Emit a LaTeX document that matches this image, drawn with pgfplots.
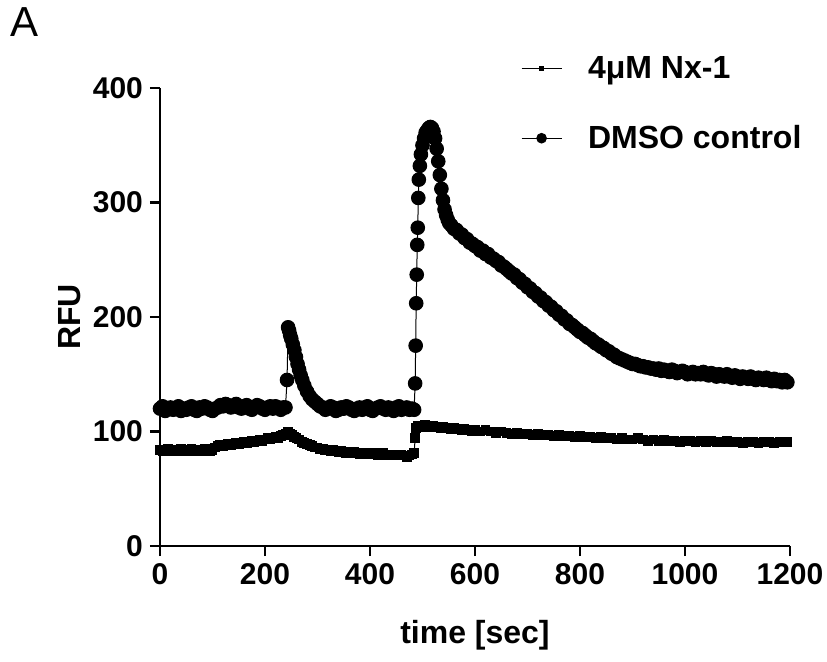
\documentclass[border=0pt]{standalone}
\usepackage{fontspec}
\setmainfont{Liberation Sans}
\usepackage{pgfplots}
\pgfplotsset{compat=1.18}

% Nx-1 trace (time [s], RFU)
\pgfplotstableread{
t y
0 84
5 83
10 84
15 85
20 83
25 84
30 83
35 84
40 85
45 84
50 83
55 84
60 85
65 83
70 84
75 84
80 83
85 85
90 84
95 83
100 84
105 86
110 87
115 88
120 87
125 88
130 89
135 88
140 89
145 90
150 89
155 90
160 91
165 90
170 91
175 92
180 91
185 92
190 93
195 92
200 93
205 94
210 93
215 94
220 95
225 94
230 96
235 97
240 98
244 100
248 98
252 97
256 95
260 94
265 93
270 91
275 90
280 89
285 88
290 87
295 86
300 86
305 85
310 85
315 84
320 84
325 83
330 84
335 83
340 82
345 83
350 82
355 81
360 82
365 81
370 82
375 81
380 80
385 81
390 80
395 81
400 80
405 81
410 80
415 79
420 80
425 81
430 80
435 79
440 80
445 79
450 80
455 79
460 80
465 79
470 78
475 79
480 80
484 81
486 94
488 103
491 105
495 104
500 105
505 106
510 105
515 104
520 105
525 104
530 104
535 103
540 104
545 103
550 103
555 102
560 103
565 102
570 102
575 101
580 102
585 101
590 101
595 100
600 101
610 100
620 101
630 100
640 99
650 100
660 99
670 98
680 99
690 98
700 98
710 97
720 98
730 97
740 97
750 96
760 97
770 96
780 96
790 95
800 96
810 95
820 95
830 94
840 95
850 94
860 94
870 93
880 94
890 93
900 93
910 94
920 93
930 92
940 93
950 92
960 93
970 92
980 92
990 91
1000 92
1010 92
1020 91
1030 92
1040 91
1050 92
1060 91
1070 91
1080 92
1090 91
1100 91
1110 90
1120 91
1130 91
1140 90
1150 91
1160 91
1170 90
1180 91
1190 91
1195 91
}\nxone

% DMSO control trace (time [s], RFU)
\pgfplotstableread{
t y
0 120
5 122
10 118
15 120
20 121
25 119
30 120
35 122
40 118
45 120
50 119
55 121
60 122
65 119
70 118
75 121
80 120
85 122
90 121
95 119
100 118
105 120
110 121
115 123
120 122
125 124
130 123
135 121
140 122
145 124
150 121
155 120
160 122
165 123
170 120
175 119
180 121
185 123
190 122
195 120
200 119
205 121
210 122
215 120
220 122
225 121
230 119
235 121
239 121
242 145
244 191
246 188
248 184
250 181
253 176
256 171
259 165
262 159
265 154
268 149
271 145
275 140
280 135
285 131
290 128
295 126
300 124
305 122
310 121
315 119
320 120
325 122
330 121
335 118
340 119
345 121
350 120
355 122
360 121
365 119
370 118
375 120
380 121
385 119
390 121
395 122
400 119
405 118
410 120
415 121
420 122
425 120
430 119
435 121
440 120
445 118
450 121
455 122
460 119
465 120
470 121
475 119
480 120
484 119
486 142
487 175
488 212
489 237
490 263
491 278
492 304
493 320
495 332
497 342
500 350
503 356
506 361
509 363
512 365
515 366
518 365
521 362
524 356
527 347
530 336
533 324
536 312
539 302
542 294
545 289
548 285
551 282
555 280
560 277
565 276
570 273
575 272
580 269
585 268
590 265
595 264
600 262
605 261
610 258
615 258
620 255
625 255
630 252
635 251
640 249
645 248
650 245
655 244
660 242
665 240
670 238
675 237
680 234
685 233
690 230
695 229
700 226
705 225
710 222
715 221
720 218
725 217
730 214
735 213
740 210
745 209
750 206
755 205
760 202
765 201
770 198
775 197
780 194
785 193
790 191
795 189
800 187
805 186
810 184
815 182
820 181
825 179
830 177
835 176
840 174
845 173
850 171
855 170
860 168
865 167
870 165
875 164
880 163
885 162
890 161
895 160
900 159
905 159
910 158
915 157
920 157
925 156
930 156
935 155
940 155
945 154
950 155
955 153
960 154
965 153
970 152
975 154
980 153
985 151
990 152
995 153
1000 152
1005 150
1010 151
1015 152
1020 150
1025 151
1030 150
1035 152
1040 150
1045 149
1050 151
1055 150
1060 148
1065 150
1070 149
1075 148
1080 150
1085 148
1090 147
1095 149
1100 148
1105 146
1110 148
1115 147
1120 146
1125 148
1130 146
1135 145
1140 147
1145 146
1150 145
1155 147
1160 145
1165 144
1170 146
1175 144
1180 145
1185 143
1190 145
1195 143
}\dmso

\begin{document}
\begin{tikzpicture}
\path[use as bounding box] (-80pt,-57.5pt) rectangle (333.5pt,273pt);
\begin{axis}[
  at={(0,0)}, anchor=south west,
  scale only axis,
  width=315pt, height=229pt,
  xmin=0, xmax=1200, ymin=0, ymax=400,
  xtick={0,200,...,1200}, ytick={0,100,...,400},
  axis x line=bottom, axis y line=left,
  axis line style={-, line width=1.3pt},
  tick align=outside,
  major tick length=5pt,
  every tick/.style={line width=1.3pt, black},
  /pgf/number format/assume math mode=true,
  /pgf/number format/1000 sep={},
  tick label style={font=\fontsize{15}{18}\selectfont\bfseries},
  xlabel={time [sec]}, ylabel={RFU},
  label style={font=\fontsize{16}{19}\selectfont\bfseries},
  x label style={at={(axis description cs:0.5,-0.194)}, anchor=center},
  y label style={at={(axis description cs:-0.143,0.5)}, anchor=center},
  clip=false,
  legend image code/.code={\draw[mark repeat=2, mark phase=2, #1] plot coordinates {(0pt,0pt) (10pt,0pt) (20pt,0pt)};},
  legend style={at={(axis description cs:0.563,1.088)}, anchor=north west,
    draw=none, fill=none, row sep=18pt,
    font=\fontsize{16}{19}\selectfont\bfseries,
    nodes={inner sep=2pt},
    /tikz/every odd column/.append style={column sep=11pt}},
  legend cell align=left,
]
\addplot[black, line width=0.5pt, mark=square*, mark size=2.2pt,
  legend image post style={mark size=1.1pt}] table[x=t, y=y] {\nxone};
\addlegendentry{4μM Nx-1}
\addplot[black, line width=0.5pt, mark=*, mark size=3.4pt,
  legend image post style={mark size=2.4pt}] table[x=t, y=y] {\dmso};
\addlegendentry{DMSO control}
\end{axis}
\node[anchor=west, inner sep=0pt, font=\fontsize{21}{24}\selectfont] at (-75pt,262pt) {A};
\end{tikzpicture}
\end{document}
